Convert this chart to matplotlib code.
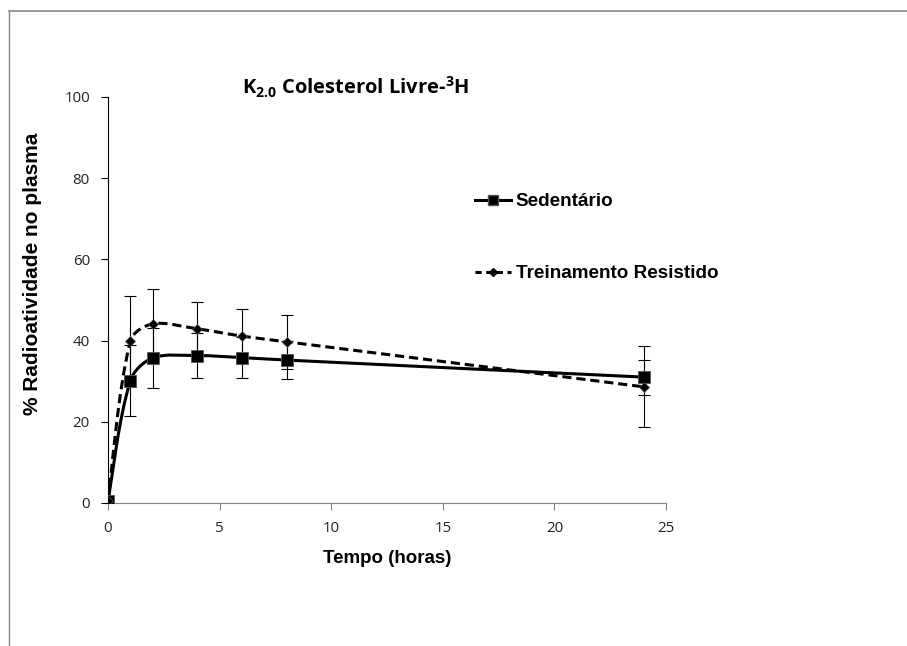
import numpy as np
import matplotlib
matplotlib.use('Agg')
import matplotlib.pyplot as plt
from matplotlib.path import Path
from matplotlib.patches import PathPatch
from matplotlib.lines import Line2D

# data
tempo = [0, 1, 2, 4, 6, 8, 24]
sed = [0.5, 30.1, 35.7, 36.3, 35.8, 35.2, 31.0]
sed_err = [0, 8.7, 7.5, 5.5, 5.0, 4.7, 4.3]
tre = [0.5, 39.9, 44.1, 42.9, 41.1, 39.7, 28.6]
tre_err = [0, 11.0, 8.6, 6.5, 6.6, 6.6, 10.0]

x_ticks = [0, 5, 10, 15, 20, 25]
y_ticks = [0, 20, 40, 60, 80, 100]

plt.rcParams['mathtext.fontset'] = 'custom'
plt.rcParams['mathtext.bf'] = 'Open Sans:bold'
plt.rcParams['mathtext.rm'] = 'Open Sans:bold'

# pixels per data unit (used only to weight the smoothing like Excel does)
SX, SY = 558 / 25, 406 / 100


def smooth_path(xs, ys, k=0.5):
    # smoothed line: cardinal spline, tangents weighted by screen chord length
    pts = np.column_stack([xs, ys]).astype(float)
    scr = pts * [SX, SY]
    n = len(pts)
    d = [np.hypot(*(scr[i + 1] - scr[i])) for i in range(n - 1)]
    verts = [pts[0]]
    codes = [Path.MOVETO]
    for i in range(n - 1):
        p1, p2 = pts[i], pts[i + 1]
        if i > 0:
            t1 = (p2 - pts[i - 1]) * d[i] / (d[i - 1] + d[i])
        else:
            t1 = (p2 - p1) * 0.5
        if i + 2 < n:
            t2 = (pts[i + 2] - p1) * d[i] / (d[i] + d[i + 1])
        else:
            t2 = (p2 - p1) * 0.5
        c1 = p1 + k * t1 * 2 / 3
        c2 = p2 - k * t2 * 2 / 3
        verts += [c1, c2, p2]
        codes += [Path.CURVE4] * 3
    return Path(verts, codes)


fig = plt.figure(figsize=(9.07, 6.46), dpi=100)
ax = fig.add_axes([0.1191, 0.2214, 0.6152, 0.6285])

ax.add_patch(PathPatch(smooth_path(tempo, sed), fill=False, lw=2.2,
                       ec='black', capstyle='round', zorder=3))
ax.add_patch(PathPatch(smooth_path(tempo, tre), fill=False, lw=2.2,
                       ec='black', ls=(0, (3, 1.6)), zorder=3))

ax.errorbar(tempo, sed, yerr=sed_err, fmt='none', ecolor='black',
            elinewidth=0.8, capsize=4, capthick=0.8, zorder=2)
ax.errorbar(tempo, tre, yerr=tre_err, fmt='none', ecolor='black',
            elinewidth=0.8, capsize=4, capthick=0.8, zorder=2)
ax.plot(tempo, sed, ls='none', marker='s', ms=8, mfc='black',
        mec='#555555', mew=0.6, zorder=4)
ax.plot(tempo, tre, ls='none', marker='D', ms=5, mfc='black',
        mec='#555555', mew=0.5, zorder=5)

ax.set_xlim(0, 25)
ax.set_ylim(0, 100)
ax.set_xticks(x_ticks)
ax.set_yticks(y_ticks)
for s in ['top', 'right']:
    ax.spines[s].set_visible(False)
ax.spines['left'].set_color('black')
ax.spines['bottom'].set_color('#808080')
ax.tick_params(direction='out', length=5, width=0.8, labelsize=10.8,
               colors='black', labelcolor='#222222')
ax.tick_params(axis='x', colors='#808080', labelcolor='#222222', pad=8)
ax.tick_params(axis='y', pad=8)
for lbl in ax.get_xticklabels() + ax.get_yticklabels():
    lbl.set_family('Open Sans')

ax.set_xlabel('Tempo (horas)', fontsize=13.5, fontweight='bold',
              family='Liberation Sans', labelpad=10)
ax.set_ylabel('% Radioatividade no plasma', fontsize=15, fontweight='bold',
              family='Liberation Sans')
ax.yaxis.set_label_coords(-0.118, 0.565)

fig.text(356 / 907, 1 - 87 / 646, r'K$_{\mathbf{2.0}}$ Colesterol Livre-$^{\mathbf{3}}$H',
         ha='center', va='center', fontsize=14.5, fontweight='bold',
         family='Open Sans')

handles = [
    Line2D([], [], color='black', lw=2.2, marker='s', ms=7, mec='#555555'),
    Line2D([], [], color='black', lw=2.2, ls=(0, (2, 1.5)), marker='D', ms=4.5),
]
fig.legend(handles, ['Sedentário', 'Treinamento Resistido'],
           loc='upper left', bbox_to_anchor=(458 / 907, 1 - 176 / 646),
           frameon=False, handlelength=1.9, handletextpad=0.25,
           labelspacing=2.9, prop={'family': 'Liberation Sans',
                                   'weight': 'bold', 'size': 13.6})

# outer frame lines (top and left)
fig.add_artist(Line2D([9 / 907, 1], [1 - 11 / 646, 1 - 11 / 646],
                      color='#888888', lw=1.2, transform=fig.transFigure))
fig.add_artist(Line2D([9 / 907, 9 / 907], [0, 1 - 11 / 646],
                      color='#888888', lw=1.0, transform=fig.transFigure))

fig.savefig('out.png', dpi=100)
